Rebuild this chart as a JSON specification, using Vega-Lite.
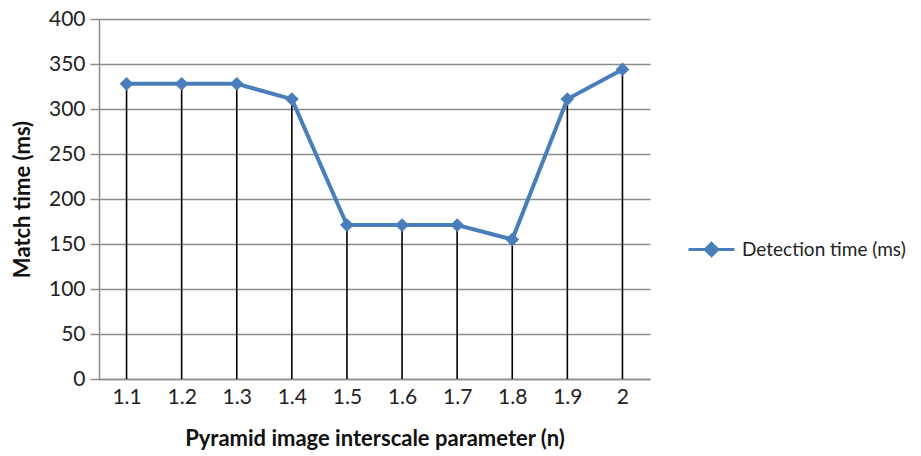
{
  "$schema": "https://vega.github.io/schema/vega-lite/v6.json",
  "width": 551,
  "height": 360,
  "autosize": {"type": "none"},
  "padding": {"left": 99, "top": 19, "right": 271, "bottom": 77},
  "background": "white",
  "config": {
    "view": {"stroke": null},
    "font": "Lato",
    "axis": {"labelFont": "Lato", "titleFont": "Lato", "labelColor": "#222222", "titleColor": "#111111", "labelFontSize": 21, "titleFontSize": 22, "titleFontWeight": "bold"}
  },
  "data": {
    "values": [
      {"n": "1.1", "time": 328},
      {"n": "1.2", "time": 328},
      {"n": "1.3", "time": 328},
      {"n": "1.4", "time": 311},
      {"n": "1.5", "time": 171},
      {"n": "1.6", "time": 171},
      {"n": "1.7", "time": 171},
      {"n": "1.8", "time": 155},
      {"n": "1.9", "time": 311},
      {"n": "2", "time": 344}
    ]
  },
  "encoding": {
    "x": {
      "field": "n",
      "type": "ordinal",
      "sort": null,
      "scale": {"type": "point", "padding": 0.5},
      "axis": {
        "title": "Pyramid image interscale parameter (n)",
        "labelAngle": 0,
        "ticks": false,
        "grid": false,
        "domainColor": "#8c8c8c",
        "domainWidth": 1.5,
        "labelPadding": 7,
        "titlePadding": 21
      }
    }
  },
  "layer": [
    {
      "mark": {"type": "rule", "color": "#000000", "strokeWidth": 1.6},
      "encoding": {
        "y": {"field": "time", "type": "quantitative"},
        "y2": {"datum": 0}
      }
    },
    {
      "mark": {
        "type": "line",
        "strokeWidth": 4,
        "point": {"shape": "diamond", "size": 190, "filled": true, "opacity": 1}
      },
      "encoding": {
        "y": {
          "field": "time",
          "type": "quantitative",
          "scale": {"domain": [0, 400], "nice": false},
          "axis": {
            "title": "Match time (ms)",
            "values": [0, 50, 100, 150, 200, 250, 300, 350, 400],
            "grid": true,
            "gridColor": "#8c8c8c",
            "gridWidth": 1.5,
            "domainColor": "#8c8c8c",
            "domainWidth": 1.5,
            "tickColor": "#8c8c8c",
            "tickWidth": 1.5,
            "tickSize": 9,
            "labelPadding": 5,
            "titlePadding": 14
          }
        },
        "color": {
          "datum": "Detection time (ms)",
          "type": "nominal",
          "scale": {"range": ["#4A7EBB"]},
          "legend": {
            "title": null,
            "orient": "none",
            "legendX": 588,
            "legendY": 206,
            "symbolType": "M-1,0H1M0,-0.27L0.27,0L0,0.27L-0.27,0Z",
            "symbolSize": 2116,
            "symbolStrokeWidth": 3,
            "symbolFillColor": "#4A7EBB",
            "symbolStrokeColor": "#4A7EBB",
            "labelFont": "Lato",
            "labelFontSize": 19,
            "labelColor": "#222222",
            "labelOffset": 6,
            "labelLimit": 400
          }
        }
      }
    }
  ]
}
